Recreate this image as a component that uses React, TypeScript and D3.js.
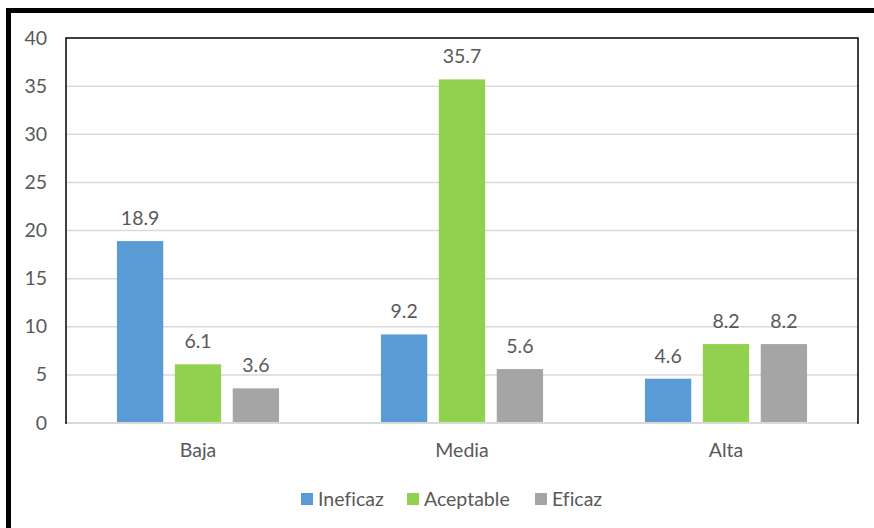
import React from "react";
import * as d3 from "d3";

const categories = ["Baja", "Media", "Alta"];
const seriesNames = ["Ineficaz", "Aceptable", "Eficaz"];
const ineficaz = [18.9, 9.2, 4.6];
const aceptable = [6.1, 35.7, 8.2];
const eficaz = [3.6, 5.6, 8.2];
const yTicks = [0, 5, 10, 15, 20, 25, 30, 35, 40];
const colors = ["#5B9BD5", "#92D050", "#A5A5A5"];

const W = 874;
const H = 528;
const left = 66, right = 858, top = 38, bottom = 423;
const font = "Lato, 'Open Sans', sans-serif";
const textColor = "#595959";
const fs = 19.5;

export default function App() {
  const series = [ineficaz, aceptable, eficaz];
  const x0 = d3.scaleBand().domain(categories).range([left, right]).paddingInner(0.386).paddingOuter(0.193);
  const x1 = d3.scaleBand().domain(seriesNames).range([0, x0.bandwidth()]).paddingInner(0.2);
  const y = d3.scaleLinear().domain([0, 40]).range([bottom, top]);

  const legendItems = [
    { name: "Ineficaz", sx: 301, tx: 318 },
    { name: "Aceptable", sx: 407, tx: 424 },
    { name: "Eficaz", sx: 535, tx: 552 },
  ];

  return (
    <svg width={W} height={H} style={{ position: "absolute", left: 0, top: 0, fontVariantLigatures: "none" }} fontFamily={font}>
      <rect x={0} y={0} width={W} height={H} fill="#fff" />
      {/* outer frame */}
      <rect x={8.5} y={10.5} width={W + 20} height={H + 20} fill="none" stroke="#000" strokeWidth={5} />
      {/* gridlines */}
      {yTicks.filter((t) => t > 0 && t < 40).map((t) => (
        <line key={t} x1={left} x2={right} y1={y(t)} y2={y(t)} stroke="#D9D9D9" strokeWidth={1.5} />
      ))}
      {/* bars */}
      {categories.map((c, ci) =>
        seriesNames.map((s, si) => {
          const v = series[si][ci];
          const bx = (x0(c) as number) + (x1(s) as number);
          return (
            <g key={c + s}>
              <rect x={bx} y={y(v)} width={x1.bandwidth()} height={y(0) - y(v)} fill={colors[si]} />
              <text x={bx + x1.bandwidth() / 2} y={y(v) - 16} textAnchor="middle" fontSize={fs} fill={textColor}>
                {v.toFixed(1)}
              </text>
            </g>
          );
        })
      )}
      {/* plot border */}
      <rect x={left} y={top} width={right - left} height={bottom - top} fill="none" stroke="#000" strokeWidth={1.5} />
      <line x1={left + 1} x2={right - 1} y1={y(0)} y2={y(0)} stroke="#D9D9D9" strokeWidth={2} />
      {/* y ticks */}
      {yTicks.map((t) => (
        <text key={t} x={47} y={y(t) + 6.5} textAnchor="end" fontSize={fs} fill={textColor}>
          {t}
        </text>
      ))}
      {/* x labels */}
      {categories.map((c) => (
        <text key={c} x={(x0(c) as number) + x0.bandwidth() / 2} y={457} textAnchor="middle" fontSize={fs} fill={textColor}>
          {c}
        </text>
      ))}
      {/* legend */}
      {legendItems.map((l, i) => (
        <g key={l.name}>
          <rect x={l.sx} y={493} width={12} height={12} fill={colors[i]} />
          <text x={l.tx} y={506} fontSize={fs} fill={textColor}>
            {l.name}
          </text>
        </g>
      ))}
    </svg>
  );
}
